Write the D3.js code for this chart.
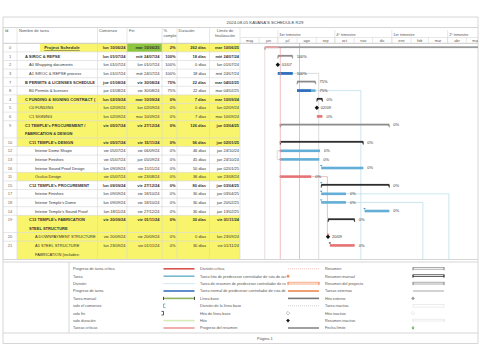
<!DOCTYPE html>
<html><head><meta charset="utf-8">
<script src="https://cdn.jsdelivr.net/npm/d3@7"></script>
<style>body{margin:0;background:#fff}svg{display:block}text{font-family:"Liberation Sans",Arial,sans-serif}</style>
</head><body><svg id="c" width="480" height="360"></svg>
<script>
// ---------- DATA ----------
const title = "2024.08.05 KAVANA'S SCHEDULE R29";
const headers = ["Id","Nombre de tarea","Comienzo","Fin","%|comple","Duración","Límite de|finalización"];
const ids = [0,1,2,3,7,8,4,5,6,9,10,12,13,16,11,15,17,18,14,19,20,21];
const names = ["Project Schedule","A SIROC & REPSE","A0 Wrapping documents","A1 SIROC & REPSE process",
 "B PERMITS & LICENSES SCHEDULE","B0 Permits & licenses","C FUNDING & SIGNING CONTRACT (","C0 FUNDING","C1 SIGNING",
 "C1 TEMPLE's PROCUREMENT /|FABRICATION & DESIGN","C11 TEMPLE's DESIGN","Interior Dome Shape","Interior Finishes",
 "Interior Sound Proof Design","Oculus Design","C12 TEMPLE's PROCUREMENT","Interior Finishes","Interior Temple's Dome",
 "Interior Temple's Sound Proof","C13 TEMPLE's FABRICATION|STEEL STRUCTURE","A DOWNPAYMENT STRUCTURE",
 "A1 STEEL STRUCTURE|FABRICATION (includes:|exterior metal deck roof)"];
const levels = [0,1,2,2,1,2,1,2,2,1,2,3,3,3,3,2,3,3,3,2,3,3];
const starts = ["2024-06-10","2024-07-01","2024-07-01","2024-07-01","2024-08-01","2024-08-01","2024-09-02","2024-09-02","2024-09-02",
 "2024-07-05","2024-07-05","2024-07-05","2024-07-05","2024-09-09","2024-07-05","2024-09-09","2024-09-09","2024-09-09","2024-11-18",
 "2024-09-20","2024-09-20","2024-09-23"];
const finishes = ["2025-06-10","2024-07-24","2024-07-01","2024-07-24","2024-08-30","2024-08-30","2024-09-10","2024-09-02","2024-09-10",
 "2024-12-27","2024-11-15","2024-09-06","2024-09-05","2024-11-15","2024-08-23","2024-12-27","2024-10-18","2024-10-18","2024-12-27",
 "2024-11-01","2024-09-20","2024-11-01"];
const startLabels = ["lun 10/06/24","lun 01/07/24","lun 01/07/24","lun 01/07/24","jue 01/08/24","jue 01/08/24","lun 02/09/24","lun 02/09/24","lun 02/09/24",
 "vie 05/07/24","vie 05/07/24","vie 05/07/24","vie 05/07/24","lun 09/09/24","vie 05/07/24","lun 09/09/24","lun 09/09/24","lun 09/09/24","lun 18/11/24",
 "vie 20/09/24","vie 20/09/24","lun 23/09/24"];
const finishLabels = ["mar 10/06/25","mié 24/07/24","lun 01/07/24","mié 24/07/24","vie 30/08/24","vie 30/08/24","mar 10/09/24","lun 02/09/24","mar 10/09/24",
 "vie 27/12/24","vie 15/11/24","vie 06/09/24","jue 05/09/24","vie 15/11/24","vie 23/08/24","vie 27/12/24","vie 18/10/24","vie 18/10/24","vie 27/12/24",
 "vie 01/11/24","vie 20/09/24","vie 01/11/24"];
const percents = [2,100,100,100,75,75,0,0,0,0,0,0,0,0,0,0,0,0,0,0,0,0];
const durations = ["262 días","18 días","0 días","18 días","22 días","22 días","7 días","0 días","7 días","126 días","96 días","46 días","45 días",
 "50 días","36 días","80 días","30 días","30 días","30 días","30 días","0 días","30 días"];
const deadlines = ["mar 10/06/25","mié 24/07/24","lun 01/07/24","mié 24/07/24","mar 04/02/25","mar 04/02/25","mar 10/09/24","lun 02/09/24","mar 10/09/24",
 "jue 03/04/25","jue 02/01/25","jue 24/10/24","jue 24/10/24","jue 02/01/25","vie 23/08/24","jue 03/04/25","jue 03/04/25","jue 20/02/25","jue 13/02/25",
 "vie 01/11/24","lun 23/09/24","vie 01/11/24"];
const kinds = ["project","summary","milestone","task","summary","task","manual","milestone","critical","summary","manual","task","task","task",
 "critical","manual","task","task","task","manual","milestone","critical"];
const lineCounts = [1,1,1,1,1,1,1,1,1,2,1,1,1,1,1,1,1,1,1,2,1,3];
const highlighted = [0,0,0,0,0,0,1,1,1,1,1,0,0,0,1,0,0,0,0,1,1,1];
const boldRows = [1,1,0,0,1,0,1,0,0,1,1,0,0,0,0,1,0,0,0,1,0,0];
const monthLabels = ["may","jun","jul","ago","sep","oct","nov","dic","ene","feb","mar","abr","may"];
const quarterStarts = ["2024-07-01","2024-10-01","2025-01-01","2025-04-01"];
const quarterLabels = ["3er trimestre","4º trimestre","1er trimestre","2º trimestre"];
const statusDate = "2024-08-05";
// links: [date,rowIndex] points (rowIndex -1 = bottom of table)
const links = [
 {color:"#e7a3a3", pts:[["2024-06-10",0],["2024-07-05",0],["2024-07-05",-1]]},
 {color:"#cfcfcf", pts:[["2024-07-25",3],["2024-09-05",3],["2024-09-05",-1]]},
 {color:"#b4dbe6", pts:[["2024-08-31",5],["2024-11-12",5],["2024-11-12",-1]]},
 {color:"#e7a3a3", pts:[["2024-08-24",14],["2024-09-19",14],["2024-09-19",20]]},
 {color:"#b4dbe6", pts:[["2024-10-19",16],["2025-04-03",16],["2025-04-03",-1]]},
 {color:"#b4dbe6", pts:[["2024-10-19",17],["2025-02-20",17],["2025-02-20",-1]]},
 {color:"#cfcfcf", pts:[["2024-07-05",11],["2024-06-30",11],["2024-06-30",12],["2024-07-05",12]]},
 {color:"#e3c9c9", pts:[["2024-06-10",0],["2024-06-10",-1]]}
];
const dotRows = [1,3,9,10,11,12,14];
const arrowRows = [13,15,16,17,18,20,21];
const legend1 = ["Progreso de tarea crítica","Tarea","División","Progreso de tarea","Tarea manual","solo el comienzo","solo fin","solo duración","Tareas críticas"];
const legend2 = ["División crítica","Tarea hito de predecesor controlador de ruta de acceso","Tarea de resumen de predecesor controlador de ruta de acceso",
 "Tarea normal de predecesor controlador de ruta de acceso","Línea base","División de la línea base","Hito de línea base","Hito","Progreso del resumen"];
const legend3 = ["Resumen","Resumen manual","Resumen del proyecto","Tareas externas","Hito externo","Tarea inactiva","Hito inactivo","Resumen inactivo","Fecha límite"];
const sym1 = ["line:#d9534f","line:#7ab8cf","dots:#a9d3de","line:#3a72c0","manual:#8fb35a","start:#5aa5c8","finish:#333","line:#d7eab8","line:#ec9a9a"];
const sym2 = ["dots:#f2c4c4","diamond:#ee8a55","bracket:#ee8a55","line:#ee8a55","line:#777","dots:#cfcfcf","odiamond:#999","diamond:#111","line:#8a8a8a"];
const sym3 = ["bracket:#8a8a8a","bracket:#222","bracket:#8a8a8a","line:#c8c8c8","diamond:#9a9a9a","box:#e2e2e2","odiamond:#dcdcdc","bracket:#e4e4e4","arrow:#5cae4a"];
const footer = "Página 1";

// ---------- DRAW ----------
const svg = d3.select("#c");
const parse = d3.timeParse("%Y-%m-%d");
const x = d3.scaleTime().domain([new Date(2024,4,1), new Date(2025,4,20)]).range([240,478]);
const y = d3.scaleLinear().domain([0,25.3]).range([43.3,260.9]);
const unitStart = Array.from(d3.cumsum([0].concat(lineCounts.slice(0,-1))));
const rowTop = i => y(unitStart[i]);
const rowBot = i => y(unitStart[i]+lineCounts[i]);
const cy = i => i < 0 ? 259 : rowTop(i)+4.3;
const colX = [3,17,97.5,127,162,177,209.5,240];
const FS = 4;
const grid = "#d6d6d6";

const defs = svg.append("defs");
defs.append("clipPath").attr("id","tbl").append("rect").attr("x",3).attr("y",43.3).attr("width",237).attr("height",215.7);
defs.append("clipPath").attr("id","gnt").append("rect").attr("x",240.5).attr("y",17).attr("width",237.5).attr("height",242);
defs.append("clipPath").attr("id","name").append("rect").attr("x",17).attr("y",40).attr("width",80).attr("height",220);
defs.append("clipPath").attr("id","lg2").append("rect").attr("x",198).attr("y",262).attr("width",88).attr("height",72);

// frame & title
svg.append("line").attr("x1",3).attr("x2",478).attr("y1",17).attr("y2",17).attr("stroke",grid);
svg.append("line").attr("x1",3).attr("x2",478).attr("y1",27.5).attr("y2",27.5).attr("stroke",grid);
svg.append("text").attr("x",265).attr("y",24).attr("text-anchor","middle").attr("font-size",4.3).attr("fill","#444").text(title);

// table
const tbl = svg.append("g").attr("clip-path","url(#tbl)");
ids.forEach((id,i)=>{
  const t=rowTop(i), b=rowBot(i);
  if (i===0){
    tbl.append("rect").attr("x",40).attr("y",t).attr("width",200).attr("height",b-t).attr("fill","#f8f46c");
    tbl.append("rect").attr("x",127).attr("y",t).attr("width",35).attr("height",b-t).attr("fill","#8cc63f");
  } else if (highlighted[i]) {
    tbl.append("rect").attr("x",17).attr("y",t).attr("width",223).attr("height",b-t).attr("fill","#f8f46c");
  }
});
// grid
ids.forEach((id,i)=>{
  svg.append("line").attr("x1",3).attr("x2",240).attr("y1",rowBot(i)).attr("y2",rowBot(i)).attr("stroke",grid).attr("stroke-width",0.6).attr("clip-path","url(#tbl)");
});
svg.append("line").attr("x1",3).attr("x2",478).attr("y1",43.3).attr("y2",43.3).attr("stroke","#bdbdbd").attr("stroke-width",0.8);
colX.forEach(cx=>svg.append("line").attr("x1",cx).attr("x2",cx).attr("y1",27.5).attr("y2",259).attr("stroke",grid).attr("stroke-width",0.6));
svg.append("line").attr("x1",478).attr("x2",478).attr("y1",17).attr("y2",343.5).attr("stroke",grid);
svg.append("line").attr("x1",3).attr("x2",3).attr("y1",17).attr("y2",343.5).attr("stroke",grid);

// headers
const hx = [5,19,99,129,163.5,178.5,225];
headers.forEach((h,k)=>{
  h.split("|").forEach((ln,j)=>{
    svg.append("text").attr("x",hx[k]).attr("y",32+j*4.6).attr("font-size",FS).attr("fill","#555")
      .attr("text-anchor",k===6?"middle":"start").text(ln);
  });
});

// rows text
ids.forEach((id,i)=>{
  const t=rowTop(i), w=boldRows[i]?"bold":"normal";
  const base=t+5.9;
  tbl.append("text").attr("x",10).attr("y",base).attr("text-anchor","middle").attr("font-size",FS).attr("fill","#666").text(id);
  const lx = [0,25,29,35][levels[i]];
  names[i].split("|").forEach((ln,j)=>{
    const tx = tbl.append("text").attr("clip-path","url(#name)").attr("y",base+j*8.6).attr("font-size",FS).attr("font-weight",w).attr("fill","#333").text(ln);
    if (i===0) tx.attr("x",62).attr("text-anchor","middle").attr("font-weight","bold").attr("text-decoration","underline").attr("font-size",4.4);
    else tx.attr("x",lx);
  });
  const cells=[[startLabels[i],125.5],[finishLabels[i],159.5],[percents[i]+"%",175.5],[durations[i],206],[deadlines[i],239]];
  cells.forEach(([s,ax])=>tbl.append("text").attr("x",ax).attr("y",base).attr("text-anchor","end").attr("font-size",FS).attr("font-weight",w).attr("fill","#333").text(s));
});

// timeline header
const gh = svg.append("g").attr("clip-path","url(#gnt)");
const months = d3.timeMonth.range(new Date(2024,4,1), new Date(2025,5,1));
months.forEach((m,k)=>{
  const a=x(m), b=x(d3.timeMonth.offset(m,1));
  gh.append("line").attr("x1",a).attr("x2",a).attr("y1",37.5).attr("y2",43.3).attr("stroke",grid).attr("stroke-width",0.6);
  gh.append("text").attr("x",(a+b)/2).attr("y",42).attr("text-anchor","middle").attr("font-size",3.8).attr("fill","#555").text(monthLabels[k]);
});
quarterStarts.forEach((q,k)=>{
  const a=x(parse(q));
  gh.append("line").attr("x1",a).attr("x2",a).attr("y1",30).attr("y2",43.3).attr("stroke",grid).attr("stroke-width",0.6);
  gh.append("text").attr("x",a+1.5).attr("y",35.5).attr("font-size",3.8).attr("fill","#555").text(quarterLabels[k]);
});
gh.append("line").attr("x1",240).attr("x2",478).attr("y1",37.5).attr("y2",37.5).attr("stroke",grid).attr("stroke-width",0.6);

// gantt body
const g = svg.append("g").attr("clip-path","url(#gnt)");
g.append("line").attr("x1",x(parse(statusDate))).attr("x2",x(parse(statusDate))).attr("y1",43.3).attr("y2",259).attr("stroke","#a5d59c").attr("stroke-width",0.8);
const lineGen = d3.line().x(p=>x(parse(p[0]))).y(p=>cy(p[1]));
links.forEach(l=>g.append("path").attr("d",lineGen(l.pts)).attr("fill","none").attr("stroke",l.color).attr("stroke-width",0.7));
const colors = {summary:"#8c8c8c",manual:"#2d2d2d",project:"#9a9a9a",task:"#62aed6",critical:"#e57373"};
ids.forEach((id,i)=>{
  const k=kinds[i], s=parse(starts[i]), f=d3.timeDay.offset(parse(finishes[i]),1);
  const c=cy(i), xs=x(s), xe=x(f);
  if (k==="milestone"){
    g.append("path").attr("d",`M${xs},${c-2.2}L${xs+2.2},${c}L${xs},${c+2.2}L${xs-2.2},${c}Z`).attr("fill","#111");
    g.append("text").attr("x",xs+4).attr("y",c+1.4).attr("font-size",FS).attr("fill","#333").text(d3.timeFormat("%d/%m")(s));
    return;
  }
  if (k==="summary"||k==="manual"||k==="project"){
    const col=colors[k];
    g.append("rect").attr("x",xs).attr("y",c-1.3).attr("width",xe-xs).attr("height",1.8).attr("fill",col);
    g.append("path").attr("d",`M${xs},${c}L${xs+1},${c}L${xs},${c+2.3}Z`).attr("fill",col).attr("stroke",col).attr("stroke-width",0.5);
    g.append("path").attr("d",`M${xe},${c}L${xe-1},${c}L${xe},${c+2.3}Z`).attr("fill",col).attr("stroke",col).attr("stroke-width",0.5);
    if (k==="project") g.append("rect").attr("x",xs).attr("y",c-1.3).attr("width",(xe-xs)*percents[i]/100*3).attr("height",1.8).attr("fill","#e7a3a3");
  } else {
    const col=colors[k];
    g.append("rect").attr("x",xs).attr("y",c-1.3).attr("width",xe-xs).attr("height",2.6).attr("fill",col);
    if (percents[i]>0) g.append("rect").attr("x",xs).attr("y",c-1.3).attr("width",(xe-xs)*percents[i]/100).attr("height",2.6).attr("fill","#2f6fbb");
  }
  if (k!=="project" || xe<478) g.append("text").attr("x",xe+4).attr("y",c+1.4).attr("font-size",FS).attr("fill","#333").text(percents[i]+"%");
});
dotRows.forEach(i=>g.append("circle").attr("cx",x(parse("2024-07-05"))).attr("cy",cy(i)).attr("r",1).attr("fill","#d98a8a"));
arrowRows.forEach(i=>{
  const xs=x(parse(starts[i])), c=cy(i)-1.4, col=kinds[i]==="critical"?"#222":(kinds[i]==="milestone"?"#d96b6b":"#3e95c6");
  g.append("path").attr("d",`M${xs-1.3},${c-1.6}L${xs+1.3},${c-1.6}L${xs},${c}Z`).attr("fill",col);
});

// legend
svg.append("line").attr("x1",3).attr("x2",478).attr("y1",259.5).attr("y2",259.5).attr("stroke",grid);
svg.append("line").attr("x1",3).attr("x2",478).attr("y1",262).attr("y2",262).attr("stroke",grid);
svg.append("line").attr("x1",69).attr("x2",69).attr("y1",262).attr("y2",333).attr("stroke",grid);
svg.append("line").attr("x1",3).attr("x2",478).attr("y1",333).attr("y2",333).attr("stroke",grid);
svg.append("line").attr("x1",3).attr("x2",478).attr("y1",343.5).attr("y2",343.5).attr("stroke",grid);
svg.append("text").attr("x",257).attr("y",339.8).attr("font-size",FS).attr("fill","#555").text(footer);

const ly = d3.scaleLinear().domain([0,8]).range([268.8,328]);
function drawSym(spec,x0,yy){
  const [t,col]=spec.split(":"); const w=31;
  if (t==="line") svg.append("rect").attr("x",x0).attr("y",yy-0.8).attr("width",w).attr("height",1.6).attr("fill",col);
  else if (t==="dots") svg.append("line").attr("x1",x0).attr("x2",x0+w).attr("y1",yy).attr("y2",yy).attr("stroke",col).attr("stroke-width",1).attr("stroke-dasharray","1,1");
  else if (t==="manual"){ svg.append("rect").attr("x",x0).attr("y",yy-0.8).attr("width",w).attr("height",1.6).attr("fill",col);
    [x0,x0+w].forEach(xx=>svg.append("rect").attr("x",xx-0.4).attr("y",yy-1.6).attr("width",0.8).attr("height",3.2).attr("fill","#222")); }
  else if (t==="start") svg.append("path").attr("d",`M${x0+2},${yy-1.8}L${x0},${yy-1.8}L${x0},${yy+1.8}L${x0+2},${yy+1.8}`).attr("fill","none").attr("stroke",col).attr("stroke-width",0.8);
  else if (t==="finish") svg.append("path").attr("d",`M${x0-2},${yy-1.8}L${x0},${yy-1.8}L${x0},${yy+1.8}L${x0-2},${yy+1.8}`).attr("fill","none").attr("stroke",col).attr("stroke-width",0.8);
  else if (t==="diamond") svg.append("path").attr("d",`M${x0},${yy-1.8}L${x0+1.8},${yy}L${x0},${yy+1.8}L${x0-1.8},${yy}Z`).attr("fill",col);
  else if (t==="odiamond") svg.append("path").attr("d",`M${x0},${yy-1.8}L${x0+1.8},${yy}L${x0},${yy+1.8}L${x0-1.8},${yy}Z`).attr("fill","none").attr("stroke",col).attr("stroke-width",0.6);
  else if (t==="bracket"){ svg.append("rect").attr("x",x0).attr("y",yy-1.4).attr("width",w).attr("height",1.8).attr("fill","none").attr("stroke",col).attr("stroke-width",0.7);
    [x0,x0+w].forEach(xx=>svg.append("line").attr("x1",xx).attr("x2",xx).attr("y1",yy-1.4).attr("y2",yy+1.6).attr("stroke",col).attr("stroke-width",0.8)); }
  else if (t==="box") svg.append("rect").attr("x",x0).attr("y",yy-1.3).attr("width",w).attr("height",2.6).attr("fill","none").attr("stroke",col).attr("stroke-width",0.6);
  else if (t==="arrow") svg.append("path").attr("d",`M${x0-1.6},${yy-0.5}L${x0+1.6},${yy-0.5}L${x0},${yy+1.8}Z M${x0-0.4},${yy-2}h0.8v1.6h-0.8Z`).attr("fill",col);
}
[[legend1,sym1,73,163.5],[legend2,sym2,200,288],[legend3,sym3,325,413]].forEach(([labs,syms,lx,sx],ci)=>{
  labs.forEach((lab,k)=>{
    const t=svg.append("text").attr("x",lx).attr("y",ly(k)+1.4).attr("font-size",3.8).attr("fill","#555").text(lab);
    if (ci===1) t.attr("clip-path","url(#lg2)");
    drawSym(syms[k],sx,ly(k));
  });
});
</script></body></html>
